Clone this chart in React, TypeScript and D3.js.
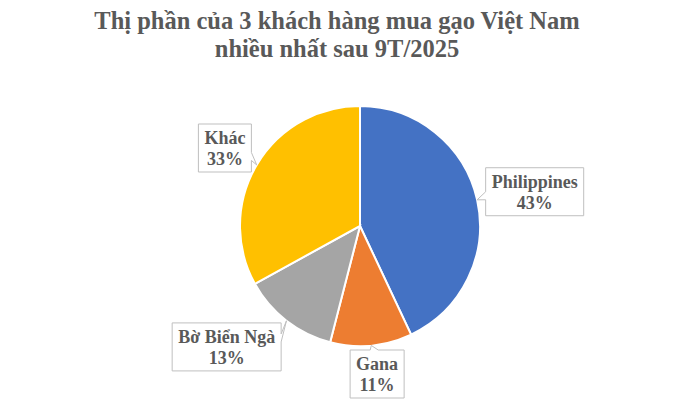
import * as d3 from 'd3'
import React from 'react'

const categories = ['Philippines', 'Gana', 'Bờ Biển Ngà', 'Khác']
const shares = [43, 11, 13, 33]
const colors = ['#4472C4', '#ED7D31', '#A5A5A5', '#FFC000']
const titleLines = ['Thị phần của 3 khách hàng mua gạo Việt Nam', 'nhiều nhất sau 9T/2025']

// where each callout box sits, polar around the pie centre
const calloutRadius = [178, 149, 180, 156]
const calloutAngleShift = [1.5, -1.2, 10, -0.6]

const width = 674
const height = 405
const cx = 360
const cy = 226
const radius = 120
const font = 'Liberation Serif, serif'
const textColor = '#595959'

let ctx: CanvasRenderingContext2D | null = null
function measure(text: string, size: number) {
  if (!ctx) ctx = document.createElement('canvas').getContext('2d')
  if (!ctx) return text.length * size * 0.5
  ctx.font = `bold ${size}px "Liberation Serif", serif`
  return ctx.measureText(text).width
}

function calloutPath(x0: number, y0: number, w: number, h: number, tx: number, ty: number) {
  const x1 = x0 + w
  const y1 = y0 + h
  const mx = x0 + w / 2
  const my = y0 + h / 2
  const nx = (tx - mx) / (w / 2)
  const ny = (ty - my) / (h / 2)
  const half = 4
  if (Math.abs(nx) <= 1 && Math.abs(ny) <= 1) {
    return `M${x0},${y0}H${x1}V${y1}H${x0}Z`
  }
  if (Math.abs(ny) > Math.abs(nx)) {
    const bx = (mx + Math.max(x0 + 6, Math.min(x1 - 6, tx))) / 2
    if (ny < 0) {
      return `M${x0},${y0}H${bx - half}L${tx},${ty}L${bx + half},${y0}H${x1}V${y1}H${x0}Z`
    }
    return `M${x0},${y0}H${x1}V${y1}H${bx + half}L${tx},${ty}L${bx - half},${y1}H${x0}Z`
  }
  const by = (my + Math.max(y0 + 6, Math.min(y1 - 6, ty))) / 2
  if (nx < 0) {
    return `M${x0},${y0}H${x1}V${y1}H${x0}V${by + half}L${tx},${ty}L${x0},${by - half}Z`
  }
  return `M${x0},${y0}H${x1}V${by - half}L${tx},${ty}L${x1},${by + half}V${y1}H${x0}Z`
}

export default function App() {
  const data = categories.map((name, i) => ({ name, value: shares[i], color: colors[i] }))
  const pie = d3
    .pie<{ name: string; value: number; color: string }>()
    .value((d) => d.value)
    .sort(null)
  const arcs = pie(data)
  const arc = d3
    .arc<d3.PieArcDatum<{ name: string; value: number; color: string }>>()
    .innerRadius(0)
    .outerRadius(radius)

  const total = d3.sum(shares)
  const labelSize = 18

  return (
    <div style={{ position: 'fixed', left: 0, top: 0 }}>
      <svg width={width} height={height} style={{ display: 'block', background: '#fff' }}>
        <rect width={width} height={height} fill='#fff' />
        {titleLines.map((line, i) => (
          <text
            key={`title-${i}`}
            x={width / 2}
            y={29 + i * 28}
            textAnchor='middle'
            fontFamily={font}
            fontWeight='bold'
            fontSize={24.5}
            fill={textColor}
          >
            {line}
          </text>
        ))}
        <g transform={`translate(${cx}, ${cy})`}>
          {arcs.map((a, i) => (
            <path key={`slice-${i}`} d={arc(a) || ''} fill={a.data.color} stroke='#fff' strokeWidth={2} />
          ))}
        </g>
        {arcs.map((a, i) => {
          const mid = (a.startAngle + a.endAngle) / 2
          const tx = cx + radius * Math.sin(mid)
          const ty = cy - radius * Math.cos(mid)
          const ang = mid + (calloutAngleShift[i] * Math.PI) / 180
          const bx = cx + calloutRadius[i] * Math.sin(ang)
          const by = cy - calloutRadius[i] * Math.cos(ang)
          const pct = `${Math.round((a.data.value / total) * 100)}%`
          const w = Math.max(measure(a.data.name, labelSize), measure(pct, labelSize)) + 12
          const h = 48
          const x0 = bx - w / 2
          const y0 = by - h / 2
          return (
            <g key={`label-${i}`}>
              <path d={calloutPath(x0, y0, w, h, tx, ty)} fill='#fff' stroke='#BFBFBF' strokeWidth={1} />
              <text
                x={bx}
                textAnchor='middle'
                fontFamily={font}
                fontWeight='bold'
                fontSize={labelSize}
                fill={textColor}
              >
                <tspan x={bx} y={by - 4}>
                  {a.data.name}
                </tspan>
                <tspan x={bx} y={by + 17}>
                  {pct}
                </tspan>
              </text>
            </g>
          )
        })}
      </svg>
    </div>
  )
}
